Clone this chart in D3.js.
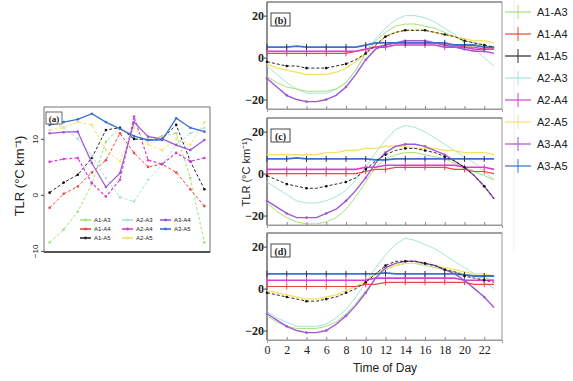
<!DOCTYPE html>
<html>
<head>
<meta charset="utf-8">
<script src="https://cdn.jsdelivr.net/npm/d3@7"></script>
<style>
  body { margin: 0; background: #fff; }
  svg { display: block; }
  text { fill: #222; }
</style>
</head>
<body>
<svg id="chart" width="573" height="381"></svg>
<script>
// ---- series definitions ----
const seriesNames  = ["A1-A3", "A1-A4", "A1-A5", "A2-A3", "A2-A4", "A2-A5", "A3-A4", "A3-A5"];
const seriesColors = ["#a6e07e", "#e8493c", "#2a2a2a", "#a3e6d9", "#d640d2", "#f3e36c", "#a056d6", "#3a72d2"];
const seriesDash   = [null, null, "3,2", null, null, null, null, null];

// ---- panel (a): twelve sample steps ----
const stepsA = [0, 1, 2, 3, 4, 5, 6, 7, 8, 9, 10, 11];
const ticksA = [-10, 0, 10];
const a_A1A3 = [-8.5, -6.2, -3, 2, 9.5, 12, 10, 9.8, 10.5, 11, 3, -8.5];
const a_A1A4 = [-2.3, 0.2, 1.5, 4, 6.2, 11, 7.5, 5, 5.5, 4, 1, -2];
const a_A1A5 = [0.4, 2.2, 3.6, 6.6, 11.6, 12, 10, 9.8, 10, 12.5, 6, 1];
const a_A2A3 = [13, 12, 10, 7, 3, -0.4, -1.2, 2.7, 5.4, 9, 11, 12];
const a_A2A4 = [5.9, 6.4, 6.6, 2.1, -0.3, 2.7, 14, 6.2, 5.5, 7.5, 6, 6.6];
const a_A2A5 = [11.6, 12, 13, 12.5, 8, 6, 12, 9, 8, 10, 9, 13];
const a_A3A4 = [11, 11.2, 11.3, 5.7, 1.4, 3.9, 13, 10.4, 10, 8.9, 8, 9.8];
const a_A3A5 = [12.5, 13, 13.5, 14.5, 13, 11.8, 10.5, 9.8, 9.8, 13.7, 12, 11.3];

// ---- panels (b)-(d): hourly values ----
const hours = [0, 1, 2, 3, 4, 5, 6, 7, 8, 9, 10, 11, 12, 13, 14, 15, 16, 17, 18, 19, 20, 21, 22, 23];
const hourTicks = [0, 2, 4, 6, 8, 10, 12, 14, 16, 18, 20, 22];
const tlrTicks = [-20, 0, 20];

const b_A1A3 = [-9, -12, -14, -15, -16, -16, -16, -15, -12, -6, 2, 8, 12, 15, 16, 16, 15, 14, 12, 10, 8, 7, 6, 4];
const b_A1A4 = [2, 2, 2, 2, 2, 2, 2, 2, 2, 3, 4, 5, 6, 7, 7, 7, 7, 7, 6, 6, 5, 5, 4, 4];
const b_A1A5 = [-2, -3, -4, -4, -5, -5, -5, -4, -3, -1, 2, 6, 10, 12, 13, 13, 13, 12, 11, 10, 8, 7, 6, 5];
const b_A2A3 = [-4, -8, -12, -15, -17, -17, -17, -15, -12, -6, 2, 9, 14, 18, 20, 20, 19, 17, 14, 11, 7, 4, 0, -4];
const b_A2A4 = [3, 3, 3, 3, 3, 3, 3, 3, 3, 3, 4, 5, 5, 6, 6, 6, 6, 6, 5, 5, 5, 4, 4, 4];
const b_A2A5 = [-3, -5, -6, -7, -8, -8, -8, -7, -5, -2, 2, 6, 10, 12, 13, 13, 13, 12, 11, 10, 9, 8, 8, 7];
const b_A3A4 = [-10, -14, -18, -20, -21, -21, -20, -18, -14, -8, -1, 4, 6, 7, 8, 8, 8, 7, 6, 5, 4, 3, 3, 2];
const b_A3A5 = [5, 5, 5, 5.5, 5, 5, 5, 5, 5, 5, 6, 7, 7, 7, 7, 7, 7, 7, 7, 6, 6, 6, 5, 5];

const c_A1A3 = [-14, -18, -21, -23, -24, -24, -23, -21, -17, -11, -4, 3, 7, 9, 10, 10, 9, 8, 7, 5, 3, 1, -1, -3];
const c_A1A4 = [0, 0, 0, 0, 0, 0, 0, 0, 0, 0, 1, 2, 2, 3, 3, 3, 3, 3, 3, 2, 2, 1, 1, 0];
const c_A1A5 = [-1, -3, -5, -6, -7, -7, -6, -5, -4, -2, 2, 6, 9, 11, 12, 12, 11, 10, 8, 6, 3, -1, -6, -12];
const c_A2A3 = [-4, -7, -10, -13, -14, -14, -13, -11, -8, -3, 3, 10, 16, 21, 23, 22, 20, 17, 14, 11, 8, 5, 1, -3];
const c_A2A4 = [2, 2, 2, 2, 2, 2, 2, 2, 2, 2, 3, 3, 4, 4, 4, 4, 4, 4, 4, 4, 3, 3, 3, 2];
const c_A2A5 = [9, 9, 9, 9, 9, 9, 10, 10, 11, 11, 12, 12, 13, 13, 13, 12, 12, 12, 11, 11, 10, 10, 10, 9];
const c_A3A4 = [-13, -16, -19, -21, -21, -21, -19, -17, -13, -8, -2, 5, 10, 13, 14, 14, 13, 11, 9, 6, 3, -1, -6, -12];
const c_A3A5 = [7, 7, 7, 7.5, 7, 7, 7, 7, 7, 7, 7, 6.5, 6.5, 7, 7, 7, 7, 7, 7, 7, 7, 7, 7, 7];

const d_A1A3 = [-13, -16, -18, -19, -19, -19, -18, -16, -12, -7, -1, 5, 9, 11, 12, 12, 11, 10, 9, 8, 7, 6, 5, 4];
const d_A1A4 = [1, 1, 1, 1, 1, 1, 1, 1, 1, 1, 2, 2, 3, 3, 3, 3, 3, 3, 3, 3, 3, 2, 2, 2];
const d_A1A5 = [-2, -3, -4, -5, -6, -6, -5, -4, -2, 0, 3, 7, 11, 13, 13, 13, 12, 11, 9, 8, 6, 5, 4, 3];
const d_A2A3 = [-11, -14, -16, -18, -18, -18, -17, -14, -10, -4, 3, 10, 16, 21, 24, 23, 21, 19, 16, 13, 10, 7, 3, 0];
const d_A2A4 = [4, 4, 4, 4, 4, 4, 4, 4, 4, 4, 4, 5, 5, 5, 5, 5, 5, 5, 5, 5, 4, 4, 4, 4];
const d_A2A5 = [-1, -2, -3, -4, -5, -5, -4, -3, -1, 1, 4, 7, 10, 11, 12, 12, 12, 11, 10, 9, 8, 7, 7, 6];
const d_A3A4 = [-12, -15, -18, -20, -21, -21, -20, -17, -13, -8, -2, 5, 10, 12, 13, 13, 12, 11, 9, 7, 4, 0, -4, -9];
const d_A3A5 = [7, 7, 7, 7, 7, 7, 7, 7, 7, 7, 7, 7, 7.5, 7, 7, 7, 7, 7, 7, 7, 6.5, 6, 6, 6];

const panelLabels = ["(b)", "(c)", "(d)"];

// ---- drawing ----
const svg = d3.select("#chart");
const serif = "'Liberation Serif', 'DejaVu Serif', serif";
const sans = "'Liberation Sans Narrow', 'Liberation Sans', Arial, sans-serif";

function drawSeries(g, xs, ys, values, idx, opts) {
  const line = d3.line().x((d, i) => xs(opts.xdata[i])).y(d => ys(d));
  g.append("path")
    .datum(values)
    .attr("d", line)
    .attr("fill", "none")
    .attr("stroke", seriesColors[idx])
    .attr("stroke-width", opts.width[idx])
    .attr("stroke-dasharray", opts.dash ? opts.dash[idx] : null);
  // markers
  const mk = g.append("g");
  values.forEach((v, i) => {
    if (i % opts.markEvery !== 0) return;
    const x = xs(opts.xdata[i]), y = ys(v);
    if (opts.markType[idx] === "dot") {
      mk.append("circle").attr("cx", x).attr("cy", y).attr("r", 1.3)
        .attr("fill", idx === 2 ? "#111" : seriesColors[idx]);
    } else if (opts.markType[idx] === "tick") {
      mk.append("line").attr("x1", x).attr("x2", x).attr("y1", y - 3).attr("y2", y + 3)
        .attr("stroke", idx === 7 ? "#333" : seriesColors[idx]).attr("stroke-width", 1);
    }
  });
}

// Panel (a)
(function () {
  const x0 = 44, x1 = 210, y0 = 107, y1 = 252;
  const xs = d3.scaleLinear().domain([-0.4, 11.4]).range([x0, x1]);
  const ys = d3.scaleLinear().domain([-10.2, 15.7]).range([y1, y0]);
  const g = svg.append("g");
  g.append("rect").attr("x", x0).attr("y", y0).attr("width", x1 - x0).attr("height", y1 - y0)
    .attr("fill", "#fff").attr("stroke", "#8a8a8a").attr("stroke-width", 1.2);
  g.append("line").attr("x1", x0).attr("x2", x1).attr("y1", y1).attr("y2", y1).attr("stroke", "#333").attr("stroke-width", 1.6);
  const aSeries = [a_A1A3, a_A1A4, a_A1A5, a_A2A3, a_A2A4, a_A2A5, a_A3A4, a_A3A5];
  aSeries.forEach((vals, i) => {
    drawSeries(g, xs, ys, vals, i, {
      xdata: stepsA, width: [1, 1, 1, 1, 1.2, 1, 1.2, 1.4],
      dash: ["3,2", "3,2", "3,2", "3,2", "3,2", "3,2", null, null],
      markEvery: 1, markType: ["dot", "dot", "dot", "dot", "dot", "dot", "dot", "dot"]
    });
  });
  // y ticks (rotated labels)
  const ax = d3.axisLeft(ys).tickValues(ticksA).tickSize(3).tickFormat(d3.format("d"));
  const axg = g.append("g").attr("transform", `translate(${x0},0)`).call(ax);
  axg.select(".domain").remove();
  axg.selectAll(".tick line").attr("stroke", "#555");
  axg.selectAll(".tick text")
    .attr("font-family", sans).attr("font-size", 8).attr("fill", "#333")
    .attr("x", 0).attr("dy", 0)
    .attr("text-anchor", "middle")
    .attr("transform", "translate(-6,0) rotate(-90)");
  // panel label
  g.append("rect").attr("x", 46).attr("y", 112).attr("width", 16).attr("height", 12)
    .attr("fill", "#fff").attr("stroke", "#444").attr("stroke-width", 0.8);
  g.append("text").attr("x", 54).attr("y", 121.5).attr("text-anchor", "middle")
    .attr("font-family", serif).attr("font-weight", "bold").attr("font-size", 9).text("(a)");
  // y label
  g.append("text").attr("transform", "translate(24,176) rotate(-90)").attr("text-anchor", "middle")
    .attr("font-family", sans).attr("font-size", 13).text("TLR (°C km⁻¹)");
  // inner legend
  const colX = [80, 122, 160];
  const rowY = [220, 229, 238];
  seriesNames.forEach((name, i) => {
    const c = Math.floor(i / 3), r = i % 3;
    const lx = colX[c], ly = rowY[r];
    g.append("line").attr("x1", lx).attr("x2", lx + 11).attr("y1", ly).attr("y2", ly)
      .attr("stroke", seriesColors[i]).attr("stroke-width", 1.6);
    g.append("circle").attr("cx", lx + 5.5).attr("cy", ly).attr("r", 1.4).attr("fill", seriesColors[i]);
    g.append("text").attr("x", lx + 14).attr("y", ly + 2).attr("font-family", sans)
      .attr("font-size", 6).attr("fill", "#555").text(name);
  });
})();

// Panels (b), (c), (d)
const panelTops = [2, 118, 233];
const panelH = 107;
const rx0 = 267, rx1 = 502;
const xsR = d3.scaleLinear().domain([0, 23.8]).range([rx0, rx1]);
const allPanels = [
  [b_A1A3, b_A1A4, b_A1A5, b_A2A3, b_A2A4, b_A2A5, b_A3A4, b_A3A5],
  [c_A1A3, c_A1A4, c_A1A5, c_A2A3, c_A2A4, c_A2A5, c_A3A4, c_A3A5],
  [d_A1A3, d_A1A4, d_A1A5, d_A2A3, d_A2A4, d_A2A5, d_A3A4, d_A3A5]
];

allPanels.forEach((series, p) => {
  const top = panelTops[p], bottom = top + panelH;
  const ys = d3.scaleLinear().domain([-24.5, 26.5]).range([bottom, top]);
  const g = svg.append("g");
  g.append("rect").attr("x", rx0).attr("y", top).attr("width", rx1 - rx0).attr("height", panelH)
    .attr("fill", "#fff").attr("stroke", "#999").attr("stroke-width", 1);
  g.append("line").attr("x1", rx0).attr("x2", rx1).attr("y1", top).attr("y2", top).attr("stroke", "#777").attr("stroke-width", 1.2);
  g.append("line").attr("x1", rx0).attr("x2", rx0).attr("y1", top).attr("y2", bottom).attr("stroke", "#555").attr("stroke-width", 1);
  const drawOrder = [3, 0, 5, 1, 4, 6, 7, 2];
  drawOrder.forEach(i => {
    drawSeries(g, xsR, ys, series[i], i, {
      xdata: hours, width: [1, 1.2, 1, 1, 1.6, 1.4, 1.4, 1.8],
      dash: seriesDash, markEvery: 2,
      markType: ["none", "tick", "dot", "none", "tick", "none", "dot", "tick"]
    });
  });
  // y axis
  const ax = d3.axisLeft(ys).tickValues(tlrTicks).tickSize(3).tickFormat(d3.format("d"));
  const axg = g.append("g").attr("transform", `translate(${rx0},0)`).call(ax);
  axg.select(".domain").remove();
  axg.selectAll(".tick line").attr("stroke", "#444");
  axg.selectAll(".tick text").attr("font-family", serif).attr("font-weight", "bold")
    .attr("font-size", 12).attr("fill", "#222").attr("x", -3);
  // x ticks
  const xa = d3.axisBottom(xsR).tickValues(hourTicks).tickSize(3).tickFormat(p === 2 ? d3.format("d") : "");
  const xg = g.append("g").attr("transform", `translate(0,${bottom})`).call(xa);
  xg.select(".domain").attr("stroke", "#999");
  xg.selectAll(".tick line").attr("stroke", "#888").attr("y2", -3);
  xg.selectAll(".tick text").attr("font-family", serif).attr("font-size", 12).attr("fill", "#222").attr("y", 5);
  // panel label
  g.append("rect").attr("x", rx0 + 4).attr("y", top + 11).attr("width", 19).attr("height", 13)
    .attr("fill", "#fff").attr("stroke", "#333").attr("stroke-width", 0.9);
  g.append("text").attr("x", rx0 + 13.5).attr("y", top + 21.5).attr("text-anchor", "middle")
    .attr("font-family", serif).attr("font-weight", "bold").attr("font-size", 10).text(panelLabels[p]);
});

// shared labels
svg.append("text").attr("transform", "translate(250,172) rotate(-90)").attr("text-anchor", "middle")
  .attr("font-family", sans).attr("font-size", 11).text("TLR (°C km⁻¹)");
svg.append("text").attr("x", 385).attr("y", 372).attr("text-anchor", "middle")
  .attr("font-family", sans).attr("font-size", 12).text("Time of Day");

// right legend
svg.append("line").attr("x1", 514).attr("x2", 514).attr("y1", 0).attr("y2", 250)
  .attr("stroke", "#eeeeee").attr("stroke-width", 1);
const legendY = [12, 34, 56, 78, 100, 122, 144, 166];
seriesNames.forEach((name, i) => {
  const y = legendY[i];
  svg.append("line").attr("x1", 505).attr("x2", 531).attr("y1", y).attr("y2", y)
    .attr("stroke", seriesColors[i]).attr("stroke-width", 1.2);
  svg.append("line").attr("x1", 518).attr("x2", 518).attr("y1", y - 7).attr("y2", y + 7)
    .attr("stroke", seriesColors[i]).attr("stroke-width", 1);
  svg.append("text").attr("x", 537).attr("y", y + 4).attr("font-family", sans)
    .attr("font-size", 11).attr("fill", "#333").text(name);
});
</script>
</body>
</html>
